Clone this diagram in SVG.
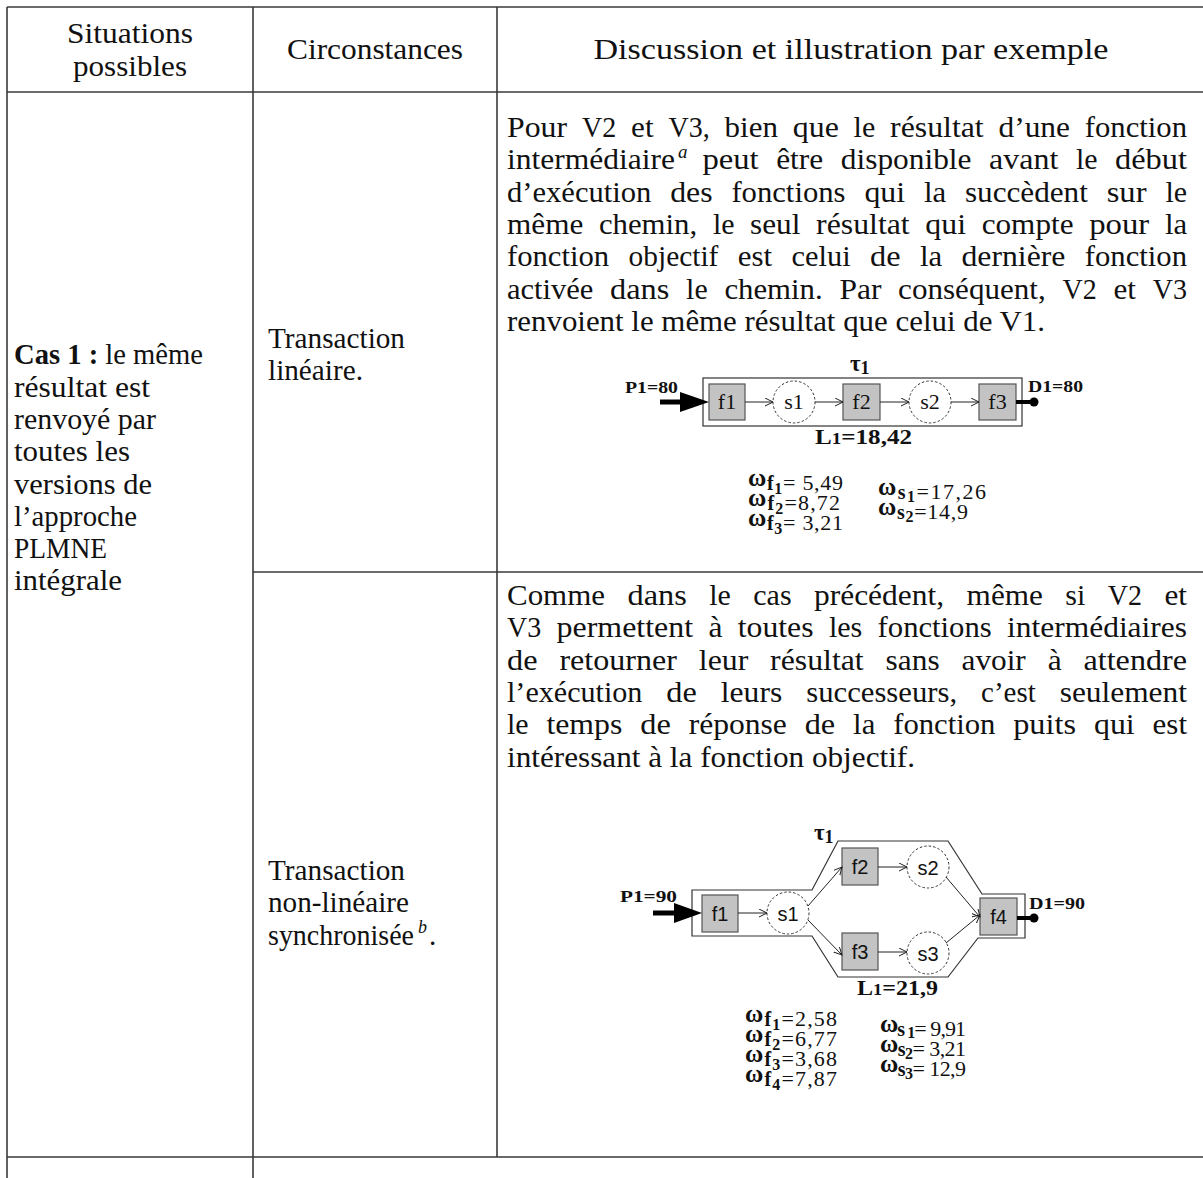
<svg xmlns="http://www.w3.org/2000/svg" width="1203" height="1178" viewBox="0 0 1203 1178">
<style>
.t{font-family:"Liberation Serif","Times New Roman",serif;font-size:29px;fill:#111}
.b{font-weight:bold}
.grid{stroke:#3a3a3a;stroke-width:1.6;fill:none}
.fn{fill:#c3c3c3;stroke:#555;stroke-width:1.2}
.sn{fill:#fff;stroke:#333;stroke-width:1;stroke-dasharray:2.5 2}
.edge{stroke:#222;stroke-width:1;fill:none;marker-end:url(#open)}
.outline{fill:none;stroke:#333;stroke-width:1.2}
.dl{font-family:"Liberation Serif","Times New Roman",serif;font-weight:bold;fill:#111}
.nl1{font-family:"Liberation Serif","Times New Roman",serif;font-size:22px;text-anchor:middle;fill:#111}
.nl2{font-family:"Liberation Sans",Arial,sans-serif;font-size:20px;text-anchor:middle;fill:#111}
.om{font-family:"Liberation Serif","Times New Roman",serif;font-size:22px;fill:#111}
.ob{font-weight:bold}
</style>
<defs>
<marker id="open" markerWidth="10" markerHeight="10" refX="8" refY="4" orient="auto" markerUnits="userSpaceOnUse"><path d="M0,0 L8,4 L0,8" fill="none" stroke="#222" stroke-width="1"/></marker>
</defs>
<rect width="1203" height="1178" fill="#fff"/>
<g id="table">
<line class="grid" x1="7" y1="7" x2="1203" y2="7"/>
<line class="grid" x1="7" y1="92" x2="1203" y2="92"/>
<line class="grid" x1="253" y1="572" x2="1203" y2="572"/>
<line class="grid" x1="7" y1="1157" x2="1203" y2="1157"/>
<line class="grid" x1="7" y1="7" x2="7" y2="1178"/>
<line class="grid" x1="253" y1="7" x2="253" y2="1178"/>
<line class="grid" x1="497" y1="7" x2="497" y2="1157"/>
</g>
<g id="header">
<text class="t" x="130" y="43" text-anchor="middle" textLength="126" lengthAdjust="spacingAndGlyphs">Situations</text>
<text class="t" x="130" y="76" text-anchor="middle" textLength="114" lengthAdjust="spacingAndGlyphs">possibles</text>
<text class="t" x="375" y="59" text-anchor="middle" textLength="176" lengthAdjust="spacingAndGlyphs">Circonstances</text>
<text class="t" x="851" y="59" text-anchor="middle" textLength="515" lengthAdjust="spacingAndGlyphs">Discussion et illustration par exemple</text>
</g>
<g id="col1">
<text class="t" x="14" y="364" textLength="189" lengthAdjust="spacingAndGlyphs"><tspan class="b">Cas 1 :</tspan> le même</text>
<text class="t" x="14" y="397" textLength="136" lengthAdjust="spacingAndGlyphs">résultat est</text>
<text class="t" x="14" y="429" textLength="142" lengthAdjust="spacingAndGlyphs">renvoyé par</text>
<text class="t" x="14" y="461" textLength="116" lengthAdjust="spacingAndGlyphs">toutes les</text>
<text class="t" x="14" y="494" textLength="138" lengthAdjust="spacingAndGlyphs">versions de</text>
<text class="t" x="14" y="526" textLength="123" lengthAdjust="spacingAndGlyphs">l’approche</text>
<text class="t" x="14" y="558" textLength="93" lengthAdjust="spacingAndGlyphs">PLMNE</text>
<text class="t" x="14" y="590" textLength="108" lengthAdjust="spacingAndGlyphs">intégrale</text>
</g>
<g id="col2">
<text class="t" x="268" y="348" textLength="137" lengthAdjust="spacingAndGlyphs">Transaction</text>
<text class="t" x="268" y="380" textLength="95" lengthAdjust="spacingAndGlyphs">linéaire.</text>
<text class="t" x="268" y="880" textLength="137" lengthAdjust="spacingAndGlyphs">Transaction</text>
<text class="t" x="268" y="912" textLength="141" lengthAdjust="spacingAndGlyphs">non-linéaire</text>
<text class="t" x="268" y="945"><tspan textLength="146" lengthAdjust="spacingAndGlyphs">synchronisée</tspan><tspan x="418" y="933" font-size="18" font-style="italic">b</tspan><tspan x="429" y="945">.</tspan></text>
</g>
<g id="row1-text">
<text class="t" y="137"><tspan x="507" textLength="60.1" lengthAdjust="spacingAndGlyphs">Pour</tspan> <tspan x="582" textLength="34.2" lengthAdjust="spacingAndGlyphs">V2</tspan> <tspan x="631.1" textLength="22.5" lengthAdjust="spacingAndGlyphs">et</tspan> <tspan x="668.5" textLength="41.2" lengthAdjust="spacingAndGlyphs">V3,</tspan> <tspan x="724.6" textLength="53.3" lengthAdjust="spacingAndGlyphs">bien</tspan> <tspan x="792.8" textLength="46" lengthAdjust="spacingAndGlyphs">que</tspan> <tspan x="853.6" textLength="21.6" lengthAdjust="spacingAndGlyphs">le</tspan> <tspan x="890.1" textLength="93.6" lengthAdjust="spacingAndGlyphs">résultat</tspan> <tspan x="998.5" textLength="71.5" lengthAdjust="spacingAndGlyphs">d’une</tspan> <tspan x="1084.8" textLength="102.2" lengthAdjust="spacingAndGlyphs">fonction</tspan></text>
<text class="t" y="169"><tspan x="507" textLength="168.1" lengthAdjust="spacingAndGlyphs">intermédiaire</tspan><tspan x="678" y="158" font-size="19" font-style="italic">a</tspan> <tspan x="702.4" y="169" textLength="56.3" lengthAdjust="spacingAndGlyphs">peut</tspan> <tspan x="776.2" textLength="47" lengthAdjust="spacingAndGlyphs">être</tspan> <tspan x="840.8" textLength="130.7" lengthAdjust="spacingAndGlyphs">disponible</tspan> <tspan x="989.1" textLength="69.2" lengthAdjust="spacingAndGlyphs">avant</tspan> <tspan x="1075.9" textLength="21.6" lengthAdjust="spacingAndGlyphs">le</tspan> <tspan x="1115" textLength="72" lengthAdjust="spacingAndGlyphs">début</tspan></text>
<text class="t" y="202"><tspan x="507" textLength="144.3" lengthAdjust="spacingAndGlyphs">d’exécution</tspan> <tspan x="670.2" textLength="42.4" lengthAdjust="spacingAndGlyphs">des</tspan> <tspan x="731.4" textLength="114.1" lengthAdjust="spacingAndGlyphs">fonctions</tspan> <tspan x="864.4" textLength="40.7" lengthAdjust="spacingAndGlyphs">qui</tspan> <tspan x="923.9" textLength="22.2" lengthAdjust="spacingAndGlyphs">la</tspan> <tspan x="964.9" textLength="123" lengthAdjust="spacingAndGlyphs">succèdent</tspan> <tspan x="1106.7" textLength="39.8" lengthAdjust="spacingAndGlyphs">sur</tspan> <tspan x="1165.4" textLength="21.6" lengthAdjust="spacingAndGlyphs">le</tspan></text>
<text class="t" y="234"><tspan x="507" textLength="76.3" lengthAdjust="spacingAndGlyphs">même</tspan> <tspan x="598.9" textLength="98.3" lengthAdjust="spacingAndGlyphs">chemin,</tspan> <tspan x="712.9" textLength="21.6" lengthAdjust="spacingAndGlyphs">le</tspan> <tspan x="750.1" textLength="50.3" lengthAdjust="spacingAndGlyphs">seul</tspan> <tspan x="816.1" textLength="93.6" lengthAdjust="spacingAndGlyphs">résultat</tspan> <tspan x="925.3" textLength="40.7" lengthAdjust="spacingAndGlyphs">qui</tspan> <tspan x="981.7" textLength="91.8" lengthAdjust="spacingAndGlyphs">compte</tspan> <tspan x="1089.2" textLength="60.1" lengthAdjust="spacingAndGlyphs">pour</tspan> <tspan x="1164.9" textLength="22.2" lengthAdjust="spacingAndGlyphs">la</tspan></text>
<text class="t" y="266"><tspan x="507" textLength="102.2" lengthAdjust="spacingAndGlyphs">fonction</tspan> <tspan x="628.6" textLength="89.8" lengthAdjust="spacingAndGlyphs">objectif</tspan> <tspan x="737.8" textLength="34.4" lengthAdjust="spacingAndGlyphs">est</tspan> <tspan x="791.6" textLength="59" lengthAdjust="spacingAndGlyphs">celui</tspan> <tspan x="870" textLength="30.5" lengthAdjust="spacingAndGlyphs">de</tspan> <tspan x="919.9" textLength="22.2" lengthAdjust="spacingAndGlyphs">la</tspan> <tspan x="961.5" textLength="103.9" lengthAdjust="spacingAndGlyphs">dernière</tspan> <tspan x="1084.8" textLength="102.2" lengthAdjust="spacingAndGlyphs">fonction</tspan></text>
<text class="t" y="299"><tspan x="507" textLength="86.4" lengthAdjust="spacingAndGlyphs">activée</tspan> <tspan x="610.1" textLength="59.3" lengthAdjust="spacingAndGlyphs">dans</tspan> <tspan x="686.1" textLength="21.6" lengthAdjust="spacingAndGlyphs">le</tspan> <tspan x="724.4" textLength="98.3" lengthAdjust="spacingAndGlyphs">chemin.</tspan> <tspan x="839.4" textLength="42" lengthAdjust="spacingAndGlyphs">Par</tspan> <tspan x="898.1" textLength="147.7" lengthAdjust="spacingAndGlyphs">conséquent,</tspan> <tspan x="1062.6" textLength="34.2" lengthAdjust="spacingAndGlyphs">V2</tspan> <tspan x="1113.5" textLength="22.5" lengthAdjust="spacingAndGlyphs">et</tspan> <tspan x="1152.8" textLength="34.2" lengthAdjust="spacingAndGlyphs">V3</tspan></text>
<text class="t" x="507" y="331" textLength="538" lengthAdjust="spacingAndGlyphs">renvoient le même résultat que celui de V1.</text>
</g>
<g id="row2-text">
<text class="t" y="605"><tspan x="507" textLength="98" lengthAdjust="spacingAndGlyphs">Comme</tspan> <tspan x="627.5" textLength="59.3" lengthAdjust="spacingAndGlyphs">dans</tspan> <tspan x="709.2" textLength="21.6" lengthAdjust="spacingAndGlyphs">le</tspan> <tspan x="753.3" textLength="38.3" lengthAdjust="spacingAndGlyphs">cas</tspan> <tspan x="814" textLength="130.1" lengthAdjust="spacingAndGlyphs">précédent,</tspan> <tspan x="966.6" textLength="76.3" lengthAdjust="spacingAndGlyphs">même</tspan> <tspan x="1065.3" textLength="20" lengthAdjust="spacingAndGlyphs">si</tspan> <tspan x="1107.8" textLength="34.2" lengthAdjust="spacingAndGlyphs">V2</tspan> <tspan x="1164.5" textLength="22.5" lengthAdjust="spacingAndGlyphs">et</tspan></text>
<text class="t" y="637"><tspan x="507" textLength="34.2" lengthAdjust="spacingAndGlyphs">V3</tspan> <tspan x="556.6" textLength="136.5" lengthAdjust="spacingAndGlyphs">permettent</tspan> <tspan x="708.5" textLength="14" lengthAdjust="spacingAndGlyphs">à</tspan> <tspan x="737.8" textLength="75.7" lengthAdjust="spacingAndGlyphs">toutes</tspan> <tspan x="828.9" textLength="33.4" lengthAdjust="spacingAndGlyphs">les</tspan> <tspan x="877.6" textLength="114.1" lengthAdjust="spacingAndGlyphs">fonctions</tspan> <tspan x="1007.1" textLength="179.9" lengthAdjust="spacingAndGlyphs">intermédiaires</tspan></text>
<text class="t" y="670"><tspan x="507" textLength="30.5" lengthAdjust="spacingAndGlyphs">de</tspan> <tspan x="559.4" textLength="117.6" lengthAdjust="spacingAndGlyphs">retourner</tspan> <tspan x="698.8" textLength="49.5" lengthAdjust="spacingAndGlyphs">leur</tspan> <tspan x="770.1" textLength="93.6" lengthAdjust="spacingAndGlyphs">résultat</tspan> <tspan x="885.6" textLength="54" lengthAdjust="spacingAndGlyphs">sans</tspan> <tspan x="961.5" textLength="64.3" lengthAdjust="spacingAndGlyphs">avoir</tspan> <tspan x="1047.7" textLength="14" lengthAdjust="spacingAndGlyphs">à</tspan> <tspan x="1083.5" textLength="103.5" lengthAdjust="spacingAndGlyphs">attendre</tspan></text>
<text class="t" y="702"><tspan x="507" textLength="135.4" lengthAdjust="spacingAndGlyphs">l’exécution</tspan> <tspan x="666.3" textLength="30.5" lengthAdjust="spacingAndGlyphs">de</tspan> <tspan x="720.8" textLength="61.4" lengthAdjust="spacingAndGlyphs">leurs</tspan> <tspan x="806.2" textLength="151" lengthAdjust="spacingAndGlyphs">successeurs,</tspan> <tspan x="981.1" textLength="54.6" lengthAdjust="spacingAndGlyphs">c’est</tspan> <tspan x="1059.7" textLength="127.3" lengthAdjust="spacingAndGlyphs">seulement</tspan></text>
<text class="t" y="734"><tspan x="507" textLength="21.6" lengthAdjust="spacingAndGlyphs">le</tspan> <tspan x="546.4" textLength="76" lengthAdjust="spacingAndGlyphs">temps</tspan> <tspan x="640.3" textLength="30.5" lengthAdjust="spacingAndGlyphs">de</tspan> <tspan x="688.7" textLength="98.2" lengthAdjust="spacingAndGlyphs">réponse</tspan> <tspan x="804.7" textLength="30.5" lengthAdjust="spacingAndGlyphs">de</tspan> <tspan x="853.1" textLength="22.2" lengthAdjust="spacingAndGlyphs">la</tspan> <tspan x="893.2" textLength="102.2" lengthAdjust="spacingAndGlyphs">fonction</tspan> <tspan x="1013.2" textLength="62.9" lengthAdjust="spacingAndGlyphs">puits</tspan> <tspan x="1094" textLength="40.7" lengthAdjust="spacingAndGlyphs">qui</tspan> <tspan x="1152.6" textLength="34.4" lengthAdjust="spacingAndGlyphs">est</tspan></text>
<text class="t" x="507" y="767" textLength="408" lengthAdjust="spacingAndGlyphs">intéressant à la fonction objectif.</text>
</g>
<g id="diagram1">
<g id="d1-frame"><rect class="outline" x="703" y="378" width="319" height="48"/></g>
<g id="d1-tau"><text class="dl" x="850" y="371" font-size="23">τ<tspan font-size="18" dy="3">1</tspan></text></g>
<g id="d1-f1"><rect class="fn" x="709" y="384" width="36" height="36"/><text class="nl1" x="727" y="409">f1</text></g>
<g id="d1-s1"><circle class="sn" cx="794" cy="402" r="21"/><text class="nl1" x="794" y="409">s1</text></g>
<g id="d1-f2"><rect class="fn" x="843" y="384" width="37" height="36"/><text class="nl1" x="861.5" y="409">f2</text></g>
<g id="d1-s2"><circle class="sn" cx="930" cy="402" r="21"/><text class="nl1" x="930" y="409">s2</text></g>
<g id="d1-f3"><rect class="fn" x="979" y="384" width="37" height="36"/><text class="nl1" x="997.5" y="409">f3</text></g>
<g id="d1-labels">
<text class="dl" x="625" y="393" font-size="17" textLength="53" lengthAdjust="spacingAndGlyphs">P1=80</text>
<text class="dl" x="1028" y="392" font-size="17" textLength="55" lengthAdjust="spacingAndGlyphs">D1=80</text>
<text class="dl" x="815" y="444" font-size="21" textLength="97" lengthAdjust="spacingAndGlyphs">L<tspan font-size="16">1</tspan>=18,42</text>
</g>
<g id="d1-weights">
<text class="om" x="748" y="490" textLength="95" lengthAdjust="spacing"><tspan class="ob" font-size="25" dy="-4">ω</tspan><tspan class="ob" font-size="20" dy="4">f</tspan><tspan class="ob" font-size="16" dy="4">1</tspan><tspan dy="-4">= 5,49</tspan></text>
<text class="om" x="748" y="510" textLength="92" lengthAdjust="spacing"><tspan class="ob" font-size="25" dy="-4">ω</tspan><tspan class="ob" font-size="20" dy="4">f</tspan><tspan class="ob" font-size="16" dy="4">2</tspan><tspan dy="-4">=8,72</tspan></text>
<text class="om" x="748" y="530" textLength="95" lengthAdjust="spacing"><tspan class="ob" font-size="25" dy="-4">ω</tspan><tspan class="ob" font-size="20" dy="4">f</tspan><tspan class="ob" font-size="16" dy="4">3</tspan><tspan dy="-4">= 3,21</tspan></text>
<text class="om" x="878" y="499" textLength="108" lengthAdjust="spacing"><tspan class="ob" font-size="25" dy="-4">ω</tspan><tspan class="ob" font-size="20" dy="4">s</tspan><tspan class="ob" font-size="16" dy="3">1</tspan><tspan dy="-3">=17,26</tspan></text>
<text class="om" x="878" y="519" textLength="90" lengthAdjust="spacing"><tspan class="ob" font-size="25" dy="-4">ω</tspan><tspan class="ob" font-size="20" dy="4">s</tspan><tspan class="ob" font-size="16" dy="3">2</tspan><tspan dy="-3">=14,9</tspan></text>
</g>
</g>
<g id="diagram2">
<g id="d2-frame"><polygon class="outline" points="692,890 812,890 838,841 948,841 982,894 1025,894 1025,938 978,938 948,977 838,977 812,936 692,936"/></g>
<g id="d2-tau"><text class="dl" x="814" y="840" font-size="23">τ<tspan font-size="18" dy="3">1</tspan></text></g>
<g id="d2-f1"><rect class="fn" x="702" y="895" width="36" height="37"/><text class="nl2" x="720" y="921">f1</text></g>
<g id="d2-s1"><circle class="sn" cx="788" cy="913" r="21"/><text class="nl2" x="788" y="921">s1</text></g>
<g id="d2-f2"><rect class="fn" x="842" y="848" width="36" height="37"/><text class="nl2" x="860" y="874">f2</text></g>
<g id="d2-s2"><circle class="sn" cx="928" cy="867" r="21"/><text class="nl2" x="928" y="875">s2</text></g>
<g id="d2-f3"><rect class="fn" x="842" y="933" width="36" height="37"/><text class="nl2" x="860" y="959">f3</text></g>
<g id="d2-s3"><circle class="sn" cx="928" cy="953" r="21"/><text class="nl2" x="928" y="961">s3</text></g>
<g id="d2-f4"><rect class="fn" x="980" y="898" width="37" height="37"/><text class="nl2" x="998.5" y="924">f4</text></g>
<g id="d2-labels">
<text class="dl" x="620" y="902" font-size="17" textLength="57" lengthAdjust="spacingAndGlyphs">P1=90</text>
<text class="dl" x="1029" y="909" font-size="17" textLength="56" lengthAdjust="spacingAndGlyphs">D1=90</text>
<text class="dl" x="857" y="995" font-size="21" textLength="81" lengthAdjust="spacingAndGlyphs">L<tspan font-size="16">1</tspan>=21,9</text>
</g>
<g id="d2-weights">
<text class="om" x="745" y="1026" textLength="92" lengthAdjust="spacing"><tspan class="ob" font-size="25" dy="-4">ω</tspan><tspan class="ob" font-size="20" dy="4">f</tspan><tspan class="ob" font-size="16" dy="4">1</tspan><tspan dy="-4">=2,58</tspan></text>
<text class="om" x="745" y="1046" textLength="92" lengthAdjust="spacing"><tspan class="ob" font-size="25" dy="-4">ω</tspan><tspan class="ob" font-size="20" dy="4">f</tspan><tspan class="ob" font-size="16" dy="4">2</tspan><tspan dy="-4">=6,77</tspan></text>
<text class="om" x="745" y="1066" textLength="92" lengthAdjust="spacing"><tspan class="ob" font-size="25" dy="-4">ω</tspan><tspan class="ob" font-size="20" dy="4">f</tspan><tspan class="ob" font-size="16" dy="4">3</tspan><tspan dy="-4">=3,68</tspan></text>
<text class="om" x="745" y="1086" textLength="92" lengthAdjust="spacing"><tspan class="ob" font-size="25" dy="-4">ω</tspan><tspan class="ob" font-size="20" dy="4">f</tspan><tspan class="ob" font-size="16" dy="4">4</tspan><tspan dy="-4">=7,87</tspan></text>
<text class="om" x="880" y="1036" textLength="86" lengthAdjust="spacing"><tspan class="ob" font-size="25" dy="-4">ω</tspan><tspan class="ob" font-size="20" dy="4">s</tspan><tspan class="ob" font-size="16" dy="2"> 1</tspan><tspan dy="-2">= 9,91</tspan></text>
<text class="om" x="880" y="1056" textLength="86" lengthAdjust="spacing"><tspan class="ob" font-size="25" dy="-4">ω</tspan><tspan class="ob" font-size="20" dy="4">s</tspan><tspan class="ob" font-size="16" dy="3">2</tspan><tspan dy="-3">= 3,21</tspan></text>
<text class="om" x="880" y="1076" textLength="86" lengthAdjust="spacing"><tspan class="ob" font-size="25" dy="-4">ω</tspan><tspan class="ob" font-size="20" dy="4">s</tspan><tspan class="ob" font-size="16" dy="3">3</tspan><tspan dy="-3">= 12,9</tspan></text>
</g>
</g>
<g id="connectors">
<line x1="660" y1="402" x2="684" y2="402" stroke="#000" stroke-width="5"/>
<polygon points="680,392 709,402 680,412" fill="#000"/>
<line class="edge" x1="745" y1="402" x2="773" y2="402"/>
<line class="edge" x1="815" y1="402" x2="843" y2="402"/>
<line class="edge" x1="880" y1="402" x2="909" y2="402"/>
<line class="edge" x1="951" y1="402" x2="979" y2="402"/>
<line x1="1016" y1="402" x2="1032" y2="402" stroke="#000" stroke-width="4"/>
<circle cx="1034" cy="402" r="4.5" fill="#000"/>
<line x1="653" y1="913" x2="677" y2="913" stroke="#000" stroke-width="5"/>
<polygon points="674,903 702,913 674,923" fill="#000"/>
<line class="edge" x1="738" y1="913" x2="767" y2="913"/>
<line class="edge" x1="808" y1="906" x2="842" y2="867"/>
<line class="edge" x1="808" y1="920" x2="842" y2="955"/>
<line class="edge" x1="878" y1="867" x2="907" y2="867"/>
<line class="edge" x1="878" y1="952" x2="907" y2="952"/>
<line class="edge" x1="946" y1="877" x2="980" y2="917"/>
<line class="edge" x1="946" y1="943" x2="980" y2="915"/>
<line x1="1017" y1="918" x2="1032" y2="918" stroke="#000" stroke-width="4"/>
<circle cx="1034" cy="918" r="4.5" fill="#000"/>
</g>
</svg>
